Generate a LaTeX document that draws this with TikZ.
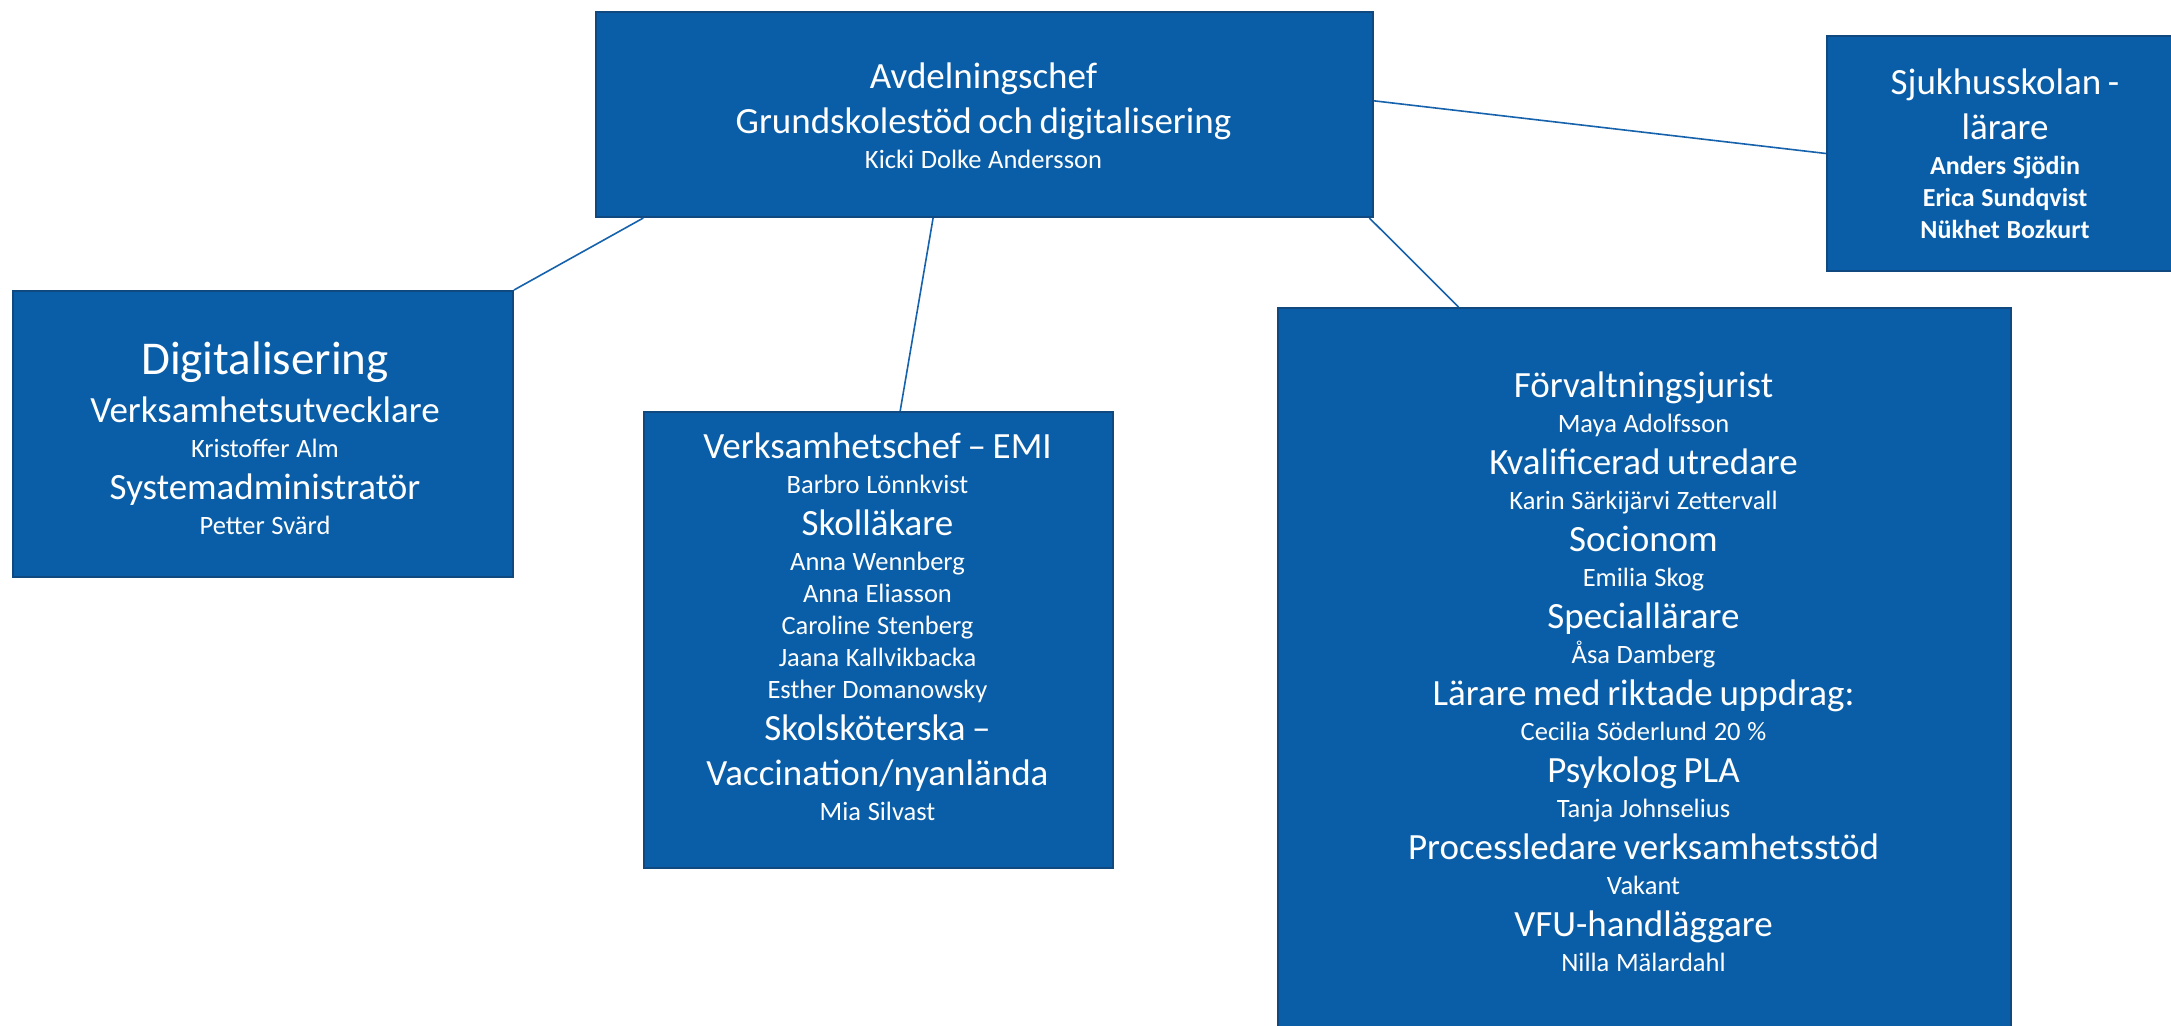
\documentclass[tikz,border=0pt]{standalone}
\usepackage{fontspec}
\setmainfont{Carlito}
\usetikzlibrary{calc}
\definecolor{boxfill}{RGB}{10,94,168}
\definecolor{boxline}{RGB}{16,72,128}
\definecolor{conn}{RGB}{22,98,172}
\setlength{\parindent}{0pt}
\setlength{\parskip}{0pt}
\lineskip=0pt
\lineskiplimit=0pt
\newcommand{\strutL}{\rule[-6.5pt]{0pt}{22.5pt}}
\newcommand{\strutS}{\rule[-5pt]{0pt}{16pt}}
\newcommand{\strutH}{\rule[-8pt]{0pt}{28pt}}
\newcommand{\lnL}[1]{{\fontsize{18.5}{0}\selectfont\strutL #1\par}}
\newcommand{\lnS}[1]{{\fontsize{13.25}{0}\selectfont\strutS #1\par}}
\newcommand{\lnB}[1]{{\fontsize{13}{0}\selectfont\bfseries\strutS #1\par}}
\newcommand{\lnH}[1]{{\fontsize{23.5}{0}\selectfont\strutH #1\par}}
\tikzset{
  orgbox/.style={draw=boxline, line width=1pt, fill=boxfill, rectangle, inner sep=0pt, anchor=north west},
  txt/.style={text=white, inner sep=0pt, anchor=north, align=center,
    execute at begin node={\baselineskip=0pt\lineskip=0pt\lineskiplimit=0pt\parskip=0pt}},
  conn/.style={draw=conn, line width=0.8pt}
}
\begin{document}
\begin{tikzpicture}[x=0.5pt, y=-0.5pt]
\useasboundingbox (0,0) rectangle (2171,1026);
\clip (0,0) rectangle (2171,1026);
\fill[white] (0,0) rectangle (2171,1026);

% boxes
\node[orgbox, minimum width=388.5pt, minimum height=102.5pt] (top) at (595,11) {};
\node[orgbox, minimum width=190pt, minimum height=117.5pt] (sjuk) at (1826,35) {};
\node[orgbox, minimum width=250pt, minimum height=143pt] (digit) at (12,290) {};
\node[orgbox, minimum width=234.5pt, minimum height=228pt] (emi) at (643,411) {};
\node[orgbox, minimum width=366.5pt, minimum height=380pt] (big) at (1277,307) {};

% connectors
\draw[conn] ($(top.south west)!0.062!(top.south east)$) -- (digit.north east);
\draw[conn] ($(top.south west)!0.434!(top.south east)$) -- ($(emi.north west)!0.546!(emi.north east)$);
\draw[conn] ($(top.south west)!0.994!(top.south east)$) -- ($(big.north west)!0.247!(big.north east)$);
\draw[conn] ($(top.north east)!0.434!(top.south east)$) -- (sjuk.west);

% texts
\node[txt, text width=370pt] (toptxt) at (983.5,56) {%
\lnL{Avdelningschef}
\lnL{Grundskolestöd och digitalisering}
\lnS{Kicki Dolke Andersson}};

\node[txt, text width=150pt] (sjuktxt) at (2005,62.5) {%
\lnL{Sjukhusskolan -}
\lnL{lärare}
\lnB{Anders Sjödin}
\lnB{Erica Sundqvist}
\lnB{Nükhet Bozkurt}};

\node[txt, text width=240pt] (digittxt) at (265,334) {%
\lnH{Digitalisering}
\lnL{Verksamhetsutvecklare}
\lnS{Kristoffer Alm}
\lnL{Systemadministratör}
\lnS{Petter Svärd}};

\node[txt, text width=225pt] (emitxt) at (877.5,426) {%
\lnL{Verksamhetschef – EMI}
\lnS{Barbro Lönnkvist}
\lnL{Skolläkare}
\lnS{Anna Wennberg}
\lnS{Anna Eliasson}
\lnS{Caroline Stenberg}
\lnS{Jaana Kallvikbacka}
\lnS{Esther Domanowsky}
\lnL{Skolsköterska –}
\lnL{Vaccination/nyanlända}
\lnS{Mia Silvast}};

\node[txt, text width=350pt] (bigtxt) at (1643.5,365) {%
\lnL{Förvaltningsjurist}
\lnS{Maya Adolfsson}
\lnL{Kvalificerad utredare}
\lnS{Karin Särkijärvi Zettervall}
\lnL{Socionom}
\lnS{Emilia Skog}
\lnL{Speciallärare}
\lnS{Åsa Damberg}
\lnL{Lärare med riktade uppdrag:}
\lnS{Cecilia Söderlund 20 \%}
\lnL{Psykolog PLA}
\lnS{Tanja Johnselius}
\lnL{Processledare verksamhetsstöd}
\lnS{Vakant}
\lnL{VFU-handläggare}
\lnS{Nilla Mälardahl}};
\end{tikzpicture}
\end{document}
